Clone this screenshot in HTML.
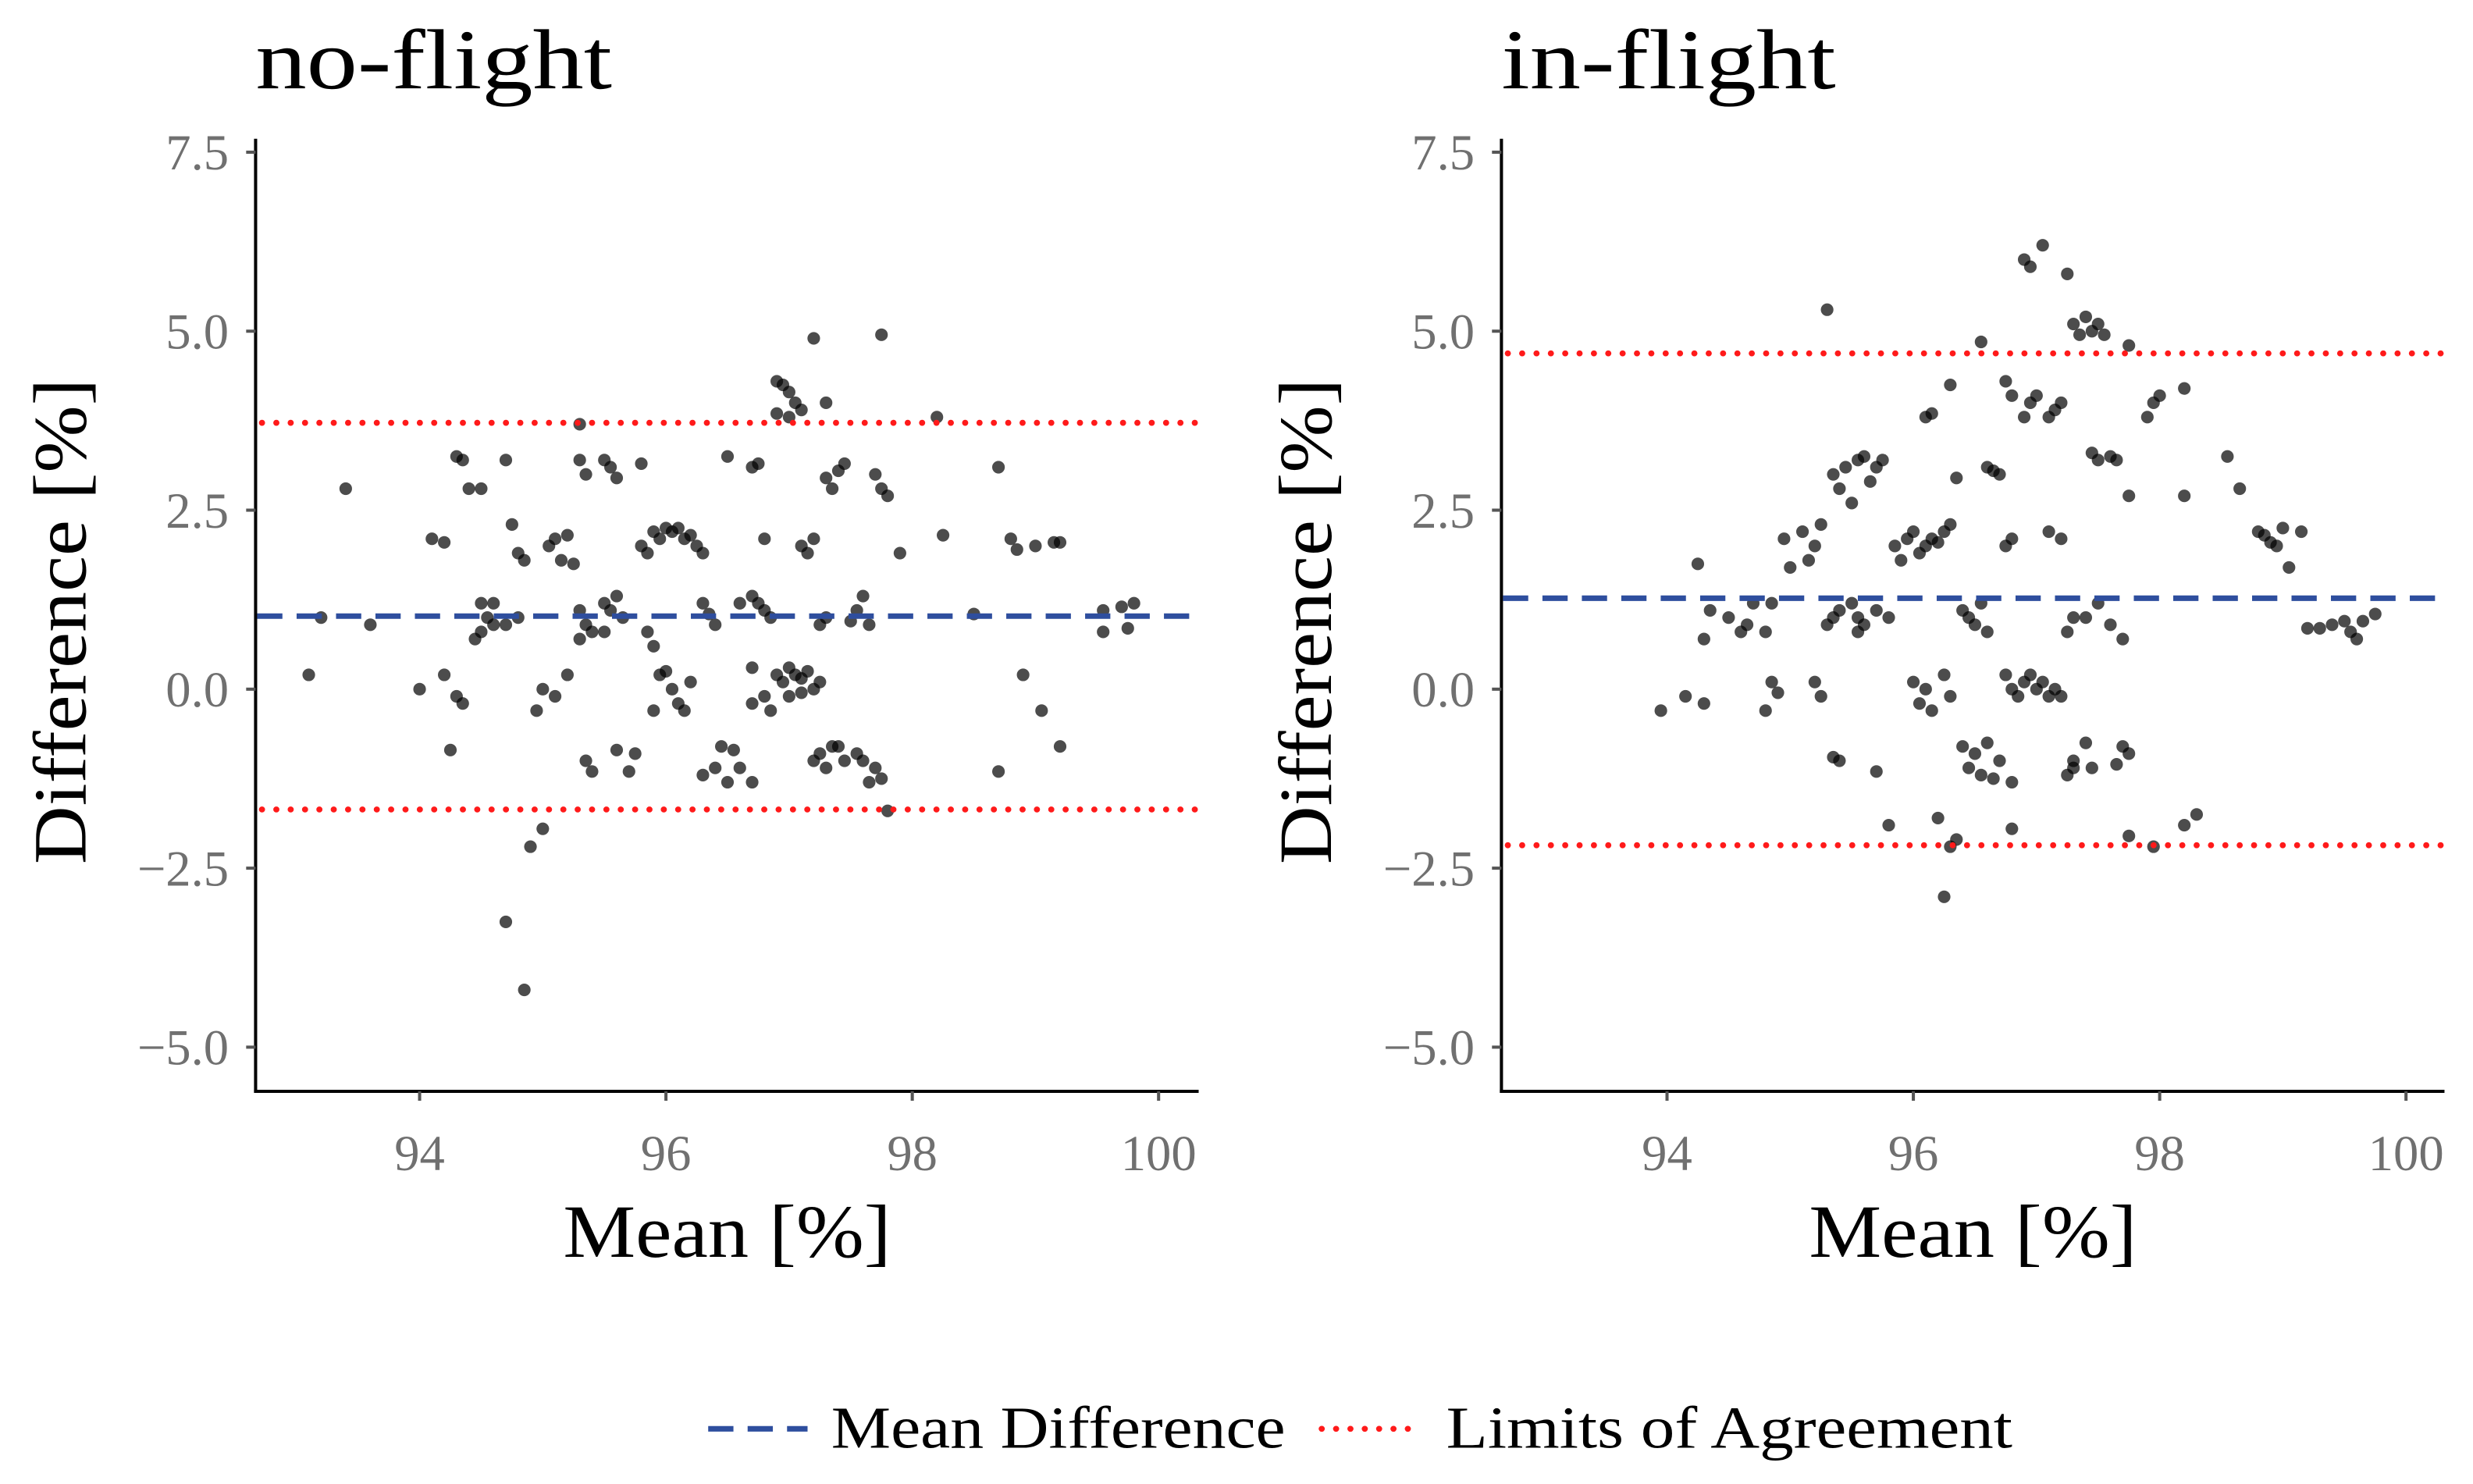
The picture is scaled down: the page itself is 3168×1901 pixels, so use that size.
<!DOCTYPE html>
<html><head><meta charset="utf-8">
<style>
html,body{margin:0;padding:0;background:#fff;}
svg{display:block;}
text{font-family:"Liberation Serif",serif;}
</style></head>
<body>
<svg id="chart" width="3168" height="1901" viewBox="0 0 1568 941" xmlns="http://www.w3.org/2000/svg">
</svg>
<script>
const xTicks = [94, 96, 98, 100];
const yTicks = [-5, -2.5, 0, 2.5, 5, 7.5];
const yTickLabels = ["\u22125.0", "\u22122.5", "0.0", "2.5", "5.0", "7.5"];
const panelTitles = ["no-flight", "in-flight"];
const meanDiffs = [1.02, 1.27];
const upperLoA = [3.72, 4.69];
const lowerLoA = [-1.68, -2.18];
const noFlightX = [93.1,93.4,93.6,93.2,94.0,94.1,94.2,94.3,94.35,94.4,94.5,94.25,94.3,94.35,94.2,94.5,94.55,94.6,94.5,94.45,94.6,94.7,94.75,94.8,94.85,94.7,94.8,94.7,94.85,94.9,95.0,94.95,95.0,95.05,95.1,95.15,95.2,95.1,95.2,95.25,95.3,95.3,95.35,95.3,95.35,95.4,95.3,95.35,95.4,95.5,95.55,95.6,95.5,95.55,95.6,95.65,95.5,95.6,95.7,95.75,95.8,95.8,95.85,95.9,95.95,96.0,96.05,96.1,96.15,96.2,96.25,96.3,95.85,95.9,95.9,95.95,96.0,96.05,96.1,96.15,96.2,96.3,96.35,96.4,96.3,96.4,96.45,96.5,96.55,96.6,96.7,96.5,96.6,96.7,96.7,96.75,96.8,96.7,96.75,96.8,96.85,96.7,96.8,96.85,96.9,96.95,96.9,97.0,97.05,97.1,97.0,96.9,96.95,97.0,97.05,97.1,97.15,97.2,97.25,97.0,97.1,97.15,97.2,97.1,97.25,97.3,97.2,97.25,97.3,97.35,97.4,97.45,97.2,97.3,97.3,97.35,97.4,97.45,97.5,97.55,97.6,97.65,97.55,97.6,97.65,97.7,97.75,97.8,97.7,97.75,97.75,97.8,97.9,98.2,98.25,98.5,98.7,98.7,98.8,98.85,98.9,99.0,99.05,99.15,99.2,99.2,99.55,99.55,99.7,99.75,99.8];
const noFlightY = [0.2,2.8,0.9,1.0,0.0,2.1,2.05,3.25,3.2,2.8,2.8,-0.85,-0.1,-0.2,0.2,1.2,1.0,0.9,0.8,0.7,1.2,3.2,2.3,1.9,1.8,0.9,1.0,-3.25,-4.2,-2.2,-1.95,-0.3,0.0,2.0,2.1,1.8,0.2,-0.1,2.15,1.75,3.7,3.2,3.0,1.1,0.9,0.8,0.7,-1.0,-1.15,3.2,3.1,2.95,1.2,1.1,1.3,1.0,0.8,-0.85,-1.15,-0.9,3.15,2.0,1.9,2.2,2.1,2.25,2.2,2.25,2.1,2.15,2.0,1.9,0.8,0.6,-0.3,0.2,0.25,0.0,-0.2,-0.3,0.1,1.2,1.05,0.9,-1.2,-1.1,-0.8,-1.3,-0.85,-1.1,-1.3,3.25,1.2,0.3,3.1,3.15,2.1,1.3,1.2,1.1,1.0,-0.2,-0.1,-0.3,4.3,4.25,3.85,3.8,4.0,3.9,4.15,0.2,0.1,0.3,0.2,0.15,0.25,0.0,0.1,-0.1,-0.05,1.9,2.1,2.0,0.9,1.0,-1.0,-0.9,-1.1,-0.8,-0.8,-1.0,4.9,4.0,2.95,2.8,3.05,3.15,0.95,1.1,1.3,0.9,-0.9,-1.0,-1.3,-1.1,-1.25,-1.7,3.0,2.8,4.95,2.7,1.9,3.8,2.15,1.05,3.1,-1.15,2.1,1.95,0.2,2.0,-0.3,2.05,2.05,-0.8,0.8,1.1,1.15,0.85,1.2];
const inFlightX = [93.95,94.15,94.3,94.25,94.3,94.35,94.5,94.6,94.65,94.7,94.8,94.85,94.85,94.9,94.8,94.95,95.0,95.1,95.15,95.2,95.25,95.3,95.2,95.25,95.3,95.35,95.4,95.35,95.4,95.45,95.5,95.55,95.6,95.65,95.7,95.75,95.5,95.55,95.6,95.7,95.8,95.35,95.4,95.55,95.7,95.8,95.85,95.9,95.95,96.0,96.05,96.1,96.15,96.2,96.25,96.3,96.1,96.15,96.3,96.35,96.0,96.05,96.1,96.15,96.25,96.3,96.2,96.3,96.35,96.25,96.4,96.45,96.5,96.55,96.6,96.65,96.7,96.8,96.4,96.45,96.5,96.55,96.6,96.55,96.6,96.65,96.7,96.75,96.8,96.75,96.8,96.75,96.8,96.85,96.9,96.95,97.0,97.05,97.1,97.15,97.2,96.8,96.9,96.95,97.0,96.9,96.95,97.05,97.1,97.15,97.2,97.1,97.2,97.25,97.3,97.35,97.25,97.3,97.3,97.25,97.3,97.4,97.45,97.4,97.45,97.5,97.55,97.45,97.5,97.6,97.65,97.4,97.5,97.6,97.7,97.7,97.75,97.65,97.75,97.75,97.75,97.9,97.95,98.0,98.2,98.2,98.2,98.3,97.95,98.55,98.65,98.8,98.85,98.9,98.95,99.0,99.05,99.15,99.2,99.3,99.4,99.5,99.55,99.6,99.65,99.75];
const inFlightY = [-0.3,-0.1,-0.2,1.75,0.7,1.1,1.0,0.8,0.9,1.2,0.8,1.2,0.1,-0.05,-0.3,2.1,1.7,2.2,1.8,2.0,2.3,5.3,0.1,-0.1,0.9,1.0,1.1,3.0,2.8,3.1,2.6,3.2,3.25,2.9,3.1,3.2,1.2,1.0,0.9,1.1,1.0,-0.95,-1.0,0.8,-1.15,-1.9,2.0,1.8,2.1,2.2,1.9,2.0,2.1,2.05,2.2,2.3,3.8,3.85,4.25,2.95,0.1,-0.2,0.0,-0.3,0.2,-0.1,-1.8,-2.2,-2.1,-2.9,-0.8,-1.1,-0.9,-1.2,-0.75,-1.25,-1.0,-1.3,1.1,1.0,0.9,1.2,0.8,4.85,3.1,3.05,3.0,4.3,4.1,2.0,2.1,0.2,0.0,-0.1,0.1,0.2,0.0,0.1,-0.1,0.0,-0.1,-1.95,3.8,4.0,4.1,6.0,5.9,6.2,3.8,3.9,4.0,2.2,2.1,5.8,5.1,4.95,0.8,1.0,-1.1,-1.2,-1.0,-0.75,-1.1,5.2,5.0,5.1,4.95,3.3,3.2,3.25,3.2,1.0,1.2,0.9,0.7,-0.8,-0.9,-1.05,2.7,4.8,-2.05,3.8,4.0,4.1,4.2,2.7,-1.9,-1.75,-2.2,3.25,2.8,2.2,2.15,2.05,2.0,2.25,1.7,2.2,0.85,0.85,0.9,0.95,0.8,0.7,0.95,1.05];

const NS = "http://www.w3.org/2000/svg";
const chartSvg = document.getElementById('chart');
function mk(tag, attrs, parent) {
  const e = document.createElementNS(NS, tag);
  for (const k in attrs) e.setAttribute(k, attrs[k]);
  (parent || chartSvg).appendChild(e);
  return e;
}
const panelDefs = [
  {left: 162, right: 760, x0: 266, xs: [noFlightX, noFlightY], titleLen: 226},
  {left: 952, right: 1550, x0: 1057, xs: [inFlightX, inFlightY], titleLen: 212}
];
const xUnit = 78.1, yUnit = 45.4, yZero = 437, plotTop = 88, plotBottom = 692;
const blueDash = '16,9', redDot = '0.1,9';
panelDefs.forEach((p, i) => {
  const g = mk('g', {});
  
  
  const X = v => p.x0 + (v - 94) * xUnit;
  const Y = v => yZero - v * yUnit;
  const t = mk('text', {x: p.left, y: 56, 'font-size': 54, fill: '#000', textLength: p.titleLen, lengthAdjust: 'spacingAndGlyphs'}, g);
  t.textContent = panelTitles[i];
  
  
  const ya = mk('line', {x1: p.left, y1: plotTop, x2: p.left, y2: plotBottom + 1, stroke: '#000', 'stroke-width': 2}, g);
  
  
  const xa = mk('line', {x1: p.left - 1, y1: plotBottom, x2: p.right, y2: plotBottom, stroke: '#000', 'stroke-width': 2}, g);
  
  
  yTicks.forEach((v, k) => {
    mk('line', {x1: p.left - 6, y1: Y(v), x2: p.left, y2: Y(v), stroke: '#555', 'stroke-width': 2}, g);
    const l = mk('text', {x: p.left - 17, y: Y(v) + 11, 'font-size': 32, fill: '#707070', 'text-anchor': 'end'}, g);
    l.textContent = yTickLabels[k];
    
    
  });
  xTicks.forEach(v => {
    mk('line', {x1: X(v), y1: plotBottom, x2: X(v), y2: plotBottom + 6, stroke: '#555', 'stroke-width': 2}, g);
    const l = mk('text', {x: X(v), y: plotBottom + 50, 'font-size': 32, fill: '#707070', 'text-anchor': 'middle'}, g);
    l.textContent = String(v);
    
    
  });
  const yt = mk('text', {x: 0, y: 0, 'font-size': 48, fill: '#000', 'text-anchor': 'middle', textLength: 308, lengthAdjust: 'spacingAndGlyphs', transform: `translate(${p.left - 108},${394}) rotate(-90)`}, g);
  yt.textContent = 'Difference [%]';
  
  
  const xt = mk('text', {x: (p.left + p.right) / 2, y: 797, 'font-size': 48, fill: '#000', 'text-anchor': 'middle', textLength: 208, lengthAdjust: 'spacingAndGlyphs'}, g);
  xt.textContent = 'Mean [%]';
  
  
  const xs = p.xs[0], ys = p.xs[1];
  xs.forEach((xv, k) => {
    const c = mk('circle', {cx: X(xv), cy: Y(ys[k]), r: 4, fill: '#000', 'fill-opacity': 0.7}, g);
    
    
  });
  const md = mk('line', {x1: p.left + 1, y1: Y(meanDiffs[i]), x2: p.right, y2: Y(meanDiffs[i]), stroke: '#2e4e9e', 'stroke-width': 3.5, 'stroke-dasharray': blueDash}, g);
  
  
  [upperLoA[i], lowerLoA[i]].forEach(v => {
    const l = mk('line', {x1: p.left + 4, y1: Y(v), x2: p.right, y2: Y(v), stroke: '#ff1a1a', 'stroke-width': 3.8, 'stroke-linecap': 'round', 'stroke-dasharray': redDot}, g);
    
    
  });
});
const lg = mk('g', {});


const l1 = mk('line', {x1: 449, y1: 906, x2: 512, y2: 906, stroke: '#2e4e9e', 'stroke-width': 3.5, 'stroke-dasharray': blueDash}, lg);


const t1 = mk('text', {x: 527, y: 918, 'font-size': 38, fill: '#000', textLength: 288, lengthAdjust: 'spacingAndGlyphs'}, lg);
t1.textContent = 'Mean Difference';


const l2 = mk('line', {x1: 838, y1: 906, x2: 900, y2: 906, stroke: '#ff1a1a', 'stroke-width': 3.8, 'stroke-linecap': 'round', 'stroke-dasharray': redDot}, lg);


const t2 = mk('text', {x: 917, y: 918, 'font-size': 38, fill: '#000', textLength: 359, lengthAdjust: 'spacingAndGlyphs'}, lg);
t2.textContent = 'Limits of Agreement';


</script>
</body></html>
